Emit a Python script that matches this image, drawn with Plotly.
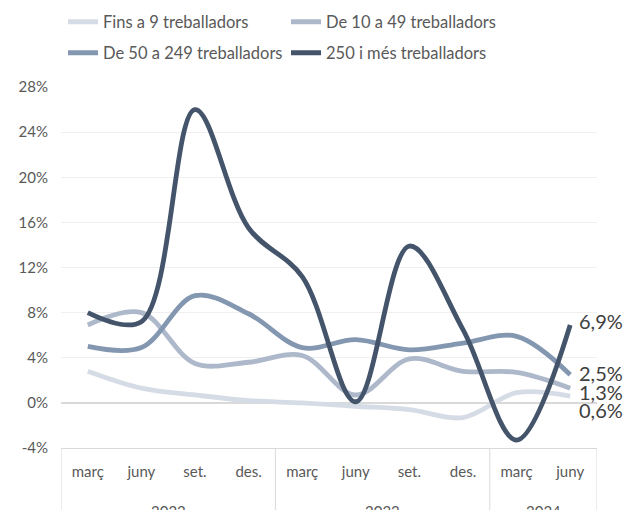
import plotly.graph_objects as go

months = ["març", "juny", "set.", "des.", "març", "juny", "set.", "des.", "març", "juny"]
years = ["2022", "2023", "2024"]
year_centers = [1.5, 5.5, 8.5]
year_dividers = [-0.5, 3.5, 7.5, 9.5]

series_names = ["Fins a 9 treballadors", "De 10 a 49 treballadors",
                "De 50 a 249 treballadors", "250 i més treballadors"]
fins9 = [2.8, 1.3, 0.7, 0.2, 0.0, -0.3, -0.6, -1.3, 0.9, 0.6]
de10_49 = [6.9, 8.0, 3.5, 3.6, 4.2, 0.7, 3.9, 2.8, 2.7, 1.3]
de50_249 = [5.0, 4.9, 9.5, 7.9, 4.9, 5.6, 4.7, 5.3, 5.9, 2.5]
mes250 = [8.0, 7.2, 26.0, 15.5, 11.2, 0.1, 13.9, 6.5, -3.3, 6.9]
end_labels = ["0,6%", "1,3%", "2,5%", "6,9%"]
label_shift = [-14, -4, 2, 4]

colors = ["#d6dce5", "#adb9ca", "#8497b0", "#44546a"]
all_series = [fins9, de10_49, de50_249, mes250]
legend_ids = ["legend", "legend", "legend2", "legend2"]
xs = list(range(len(months)))

# the page body has an 8px default margin; compensate so the plot lands where the reference has it
OFF = 8
W, H = 644, 510

FONT = "Lato"
fig = go.Figure()
for name, vals, col, lg in zip(series_names, all_series, colors, legend_ids):
    fig.add_trace(go.Scatter(x=xs, y=vals, name=name, mode="lines", legend=lg,
                             line=dict(color=col, width=4.8, shape="spline", smoothing=1.0),
                             hoverinfo="skip"))

annotations = []
for vals, lab, sh in zip(all_series, end_labels, label_shift):
    annotations.append(dict(x=xs[-1], y=vals[-1], xref="x", yref="y", text=lab,
                            showarrow=False, xanchor="left", yanchor="middle",
                            xshift=7, yshift=sh, font=dict(family=FONT, size=20, color="#404040")))
for yr, c in zip(years, year_centers):
    annotations.append(dict(x=c, y=-0.145, xref="x", yref="paper", text=yr, showarrow=False,
                            xanchor="center", yanchor="top",
                            font=dict(family=FONT, size=15, color="#595959")))

shapes = []
for d in year_dividers:
    shapes.append(dict(type="line", x0=d, x1=d, xref="x", yref="paper", y0=0, y1=-0.25,
                       line=dict(color="#d9d9d9", width=1)))

legend_common = dict(orientation="h", xanchor="left", yanchor="middle",
                     xref="container", yref="container",
                     entrywidth=178, entrywidthmode="pixels", bgcolor="rgba(0,0,0,0)",
                     font=dict(family=FONT, size=16.5, color="#595959"))

lx = (63 - OFF) / W
fig.update_layout(
    width=W, height=H,
    margin=dict(l=61 - OFF, r=W - (597 - OFF), t=87 - OFF, b=H - (448 - OFF), autoexpand=False),
    paper_bgcolor="white", plot_bgcolor="white",
    font=dict(family=FONT, size=15, color="#595959"),
    showlegend=True,
    legend=dict(x=lx, y=1 - (22 - OFF) / H, **legend_common),
    legend2=dict(x=lx, y=1 - (53 - OFF) / H, **legend_common),
    annotations=annotations, shapes=shapes,
    xaxis=dict(range=[-0.5, 9.5], tickmode="array", tickvals=xs, ticktext=months,
               showgrid=False, zeroline=False, showline=True, linecolor="#d9d9d9",
               ticks="", ticklabelstandoff=10, tickfont=dict(family=FONT, size=15, color="#595959")),
    yaxis=dict(range=[-4, 28], tickmode="array", tickvals=list(range(-4, 29, 4)),
               ticktext=[f"{v}%" for v in range(-4, 29, 4)],
               showgrid=True, gridcolor="#efefef", gridwidth=1,
               zeroline=True, zerolinecolor="#d9d9d9", zerolinewidth=1.5,
               ticks="", ticklabelstandoff=12, tickfont=dict(family=FONT, size=15, color="#595959")),
)
fig.write_html("out.html")
